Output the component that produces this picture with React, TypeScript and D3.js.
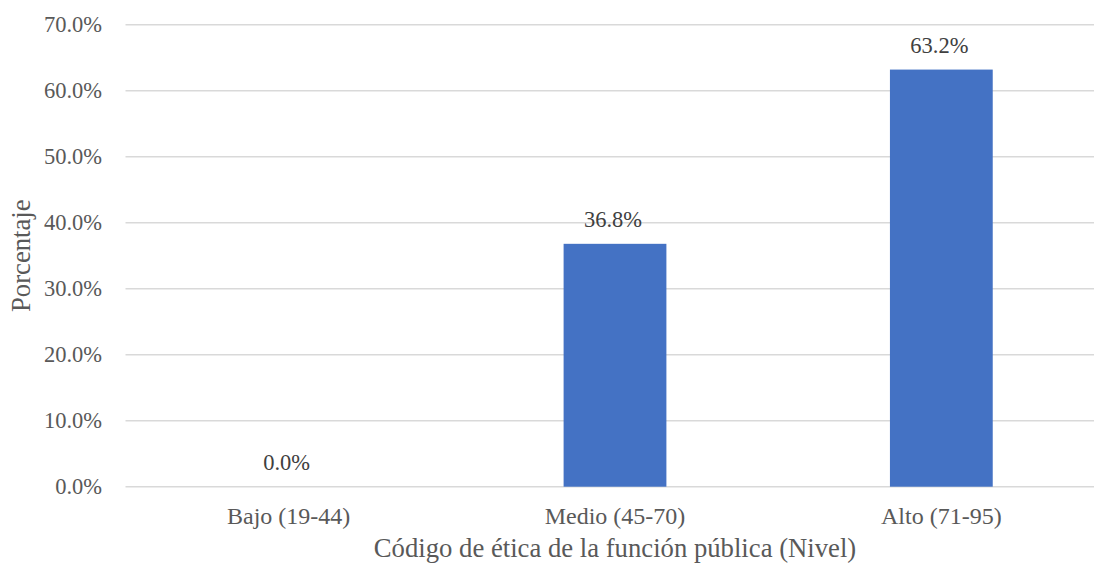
import React from "react";
import * as d3 from "d3";

const categories: string[] = ["Bajo (19-44)", "Medio (45-70)", "Alto (71-95)"];
const values: number[] = [0.0, 36.8, 63.2];
const yTicks: number[] = [0, 10, 20, 30, 40, 50, 60, 70];
const xTitle = "Código de ética de la función pública (Nivel)";
const yTitle = "Porcentaje";

const W = 1094;
const H = 564;
const plot = { left: 125.5, right: 1104.5, top: 24.7, bottom: 486.7 };
const FONT = "'Liberation Serif', 'Times New Roman', serif";

export default function App() {
  const x = d3
    .scaleBand<string>()
    .domain(categories)
    .range([plot.left, plot.right])
    .paddingInner(0.685)
    .paddingOuter(0.3425);
  const y = d3.scaleLinear().domain([0, 70]).range([plot.bottom, plot.top]);

  return (
    <svg
      width={W}
      height={H}
      style={{ position: "absolute", left: 0, top: 0, background: "#fff" }}
      fontFamily={FONT}
    >
      {yTicks.map((t) => (
        <g key={t}>
          <line
            x1={plot.left}
            x2={plot.right}
            y1={y(t)}
            y2={y(t)}
            stroke="#D9D9D9"
            strokeWidth={1.4}
          />
          <text
            x={102}
            y={y(t)}
            dy="0.34em"
            textAnchor="end"
            fontSize={22.5}
            fill="#595959"
          >
            {t.toFixed(1) + "%"}
          </text>
        </g>
      ))}
      {categories.map((c, i) => {
        const bx = x(c)!;
        const bw = x.bandwidth();
        const cx = bx + bw / 2;
        return (
          <g key={c}>
            {values[i] > 0 && (
              <rect
                x={bx}
                y={y(values[i])}
                width={bw}
                height={y(0) - y(values[i])}
                fill="#4472C4"
              />
            )}
            <text
              x={cx - 2}
              y={y(values[i]) - 16.5}
              textAnchor="middle"
              fontSize={22.5}
              fill="#404040"
            >
              {values[i].toFixed(1) + "%"}
            </text>
            <text
              x={cx}
              y={523.5}
              textAnchor="middle"
              fontSize={24}
              fill="#595959"
            >
              {c}
            </text>
          </g>
        );
      })}
      <text
        x={(plot.left + plot.right) / 2}
        y={557}
        textAnchor="middle"
        fontSize={26.7}
        fill="#595959"
      >
        {xTitle}
      </text>
      <text
        transform={`translate(${30}, ${(plot.top + plot.bottom) / 2}) rotate(-90)`}
        textAnchor="middle"
        fontSize={26.7}
        fill="#595959"
      >
        {yTitle}
      </text>
    </svg>
  );
}
